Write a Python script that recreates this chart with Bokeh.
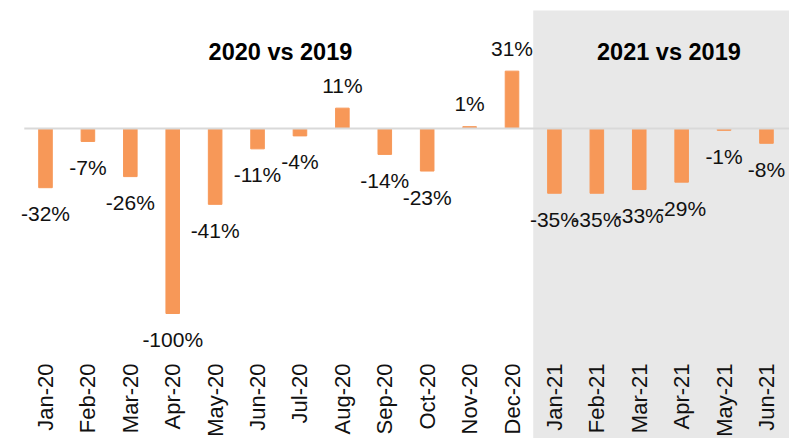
import math
from bokeh.plotting import figure
from bokeh.models import ColumnDataSource, Range1d, BoxAnnotation, Label, LabelSet
from bokeh.core.properties import value
from bokeh.embed import file_html
from bokeh.resources import INLINE

months = ["Jan-20", "Feb-20", "Mar-20", "Apr-20", "May-20", "Jun-20", "Jul-20",
          "Aug-20", "Sep-20", "Oct-20", "Nov-20", "Dec-20",
          "Jan-21", "Feb-21", "Mar-21", "Apr-21", "May-21", "Jun-21"]
change_pct = [-32, -7, -26, -100, -41, -11, -4, 11, -14, -23, 1, 31,
              -35, -35, -33, -29, -1, -8]
period_titles = ["2020 vs 2019", "2021 vs 2019"]
months_2020 = 12

FONT = "Liberation Sans"
BAR = "#F79858"
PX = 1.85  # pixels per percentage point

n = len(months)
idx = list(range(n))
src = ColumnDataSource(dict(
    x=idx,
    top=change_pct,
    label=[f"{v}%" for v in change_pct],
    off=[15.5 if v >= 0 else -33.5 for v in change_pct],
))

p = figure(width=789, height=438, output_backend="svg", toolbar_location=None,
           x_range=Range1d(-1.061, 17.543),
           y_range=Range1d(-(438 - 128) / PX, 128 / PX),
           x_axis_location=None, y_axis_location=None,
           min_border_left=0, min_border_right=0,
           min_border_top=0, min_border_bottom=0)
p.outline_line_color = None
p.grid.visible = False
p.background_fill_color = "white"
p.border_fill_color = "white"

# shaded 2021 area
p.add_layout(BoxAnnotation(left=months_2020 - 0.5, top=(128 - 10) / PX,
                           fill_color="#E8E8E8", fill_alpha=1.0, line_color=None,
                           level="underlay"))

p.vbar(x="x", top="top", bottom=0, width=0.32, source=src,
       fill_color=BAR, line_color=BAR)
p.line(x=[-0.5, n], y=[0, 0], line_color="#D9D9D9", line_width=2)

p.add_layout(LabelSet(x="x", y="top", text="label", y_offset="off", source=src,
                      text_align="center", text_baseline="alphabetic",
                      text_font=value(FONT), text_font_size="21px",
                      text_color="#111111"))

for t, xc in zip(period_titles, [5.54, 14.7]):
    p.add_layout(Label(x=xc, y=(128 - 51) / PX, text=t, text_align="center",
                       text_baseline="alphabetic", text_font=FONT,
                       text_font_size="23.5px", text_font_style="bold",
                       text_color="#000000"))

# month category labels (vertical, top-aligned under the plot area)
p.text(x=idx, y=[-(363 - 128) / PX] * n, text=months, angle=math.pi / 2,
       text_align="right", text_baseline="middle",
       text_font=value(FONT), text_font_size="22px", text_color="#111111")

open("out.html", "w").write(file_html(p, INLINE))
